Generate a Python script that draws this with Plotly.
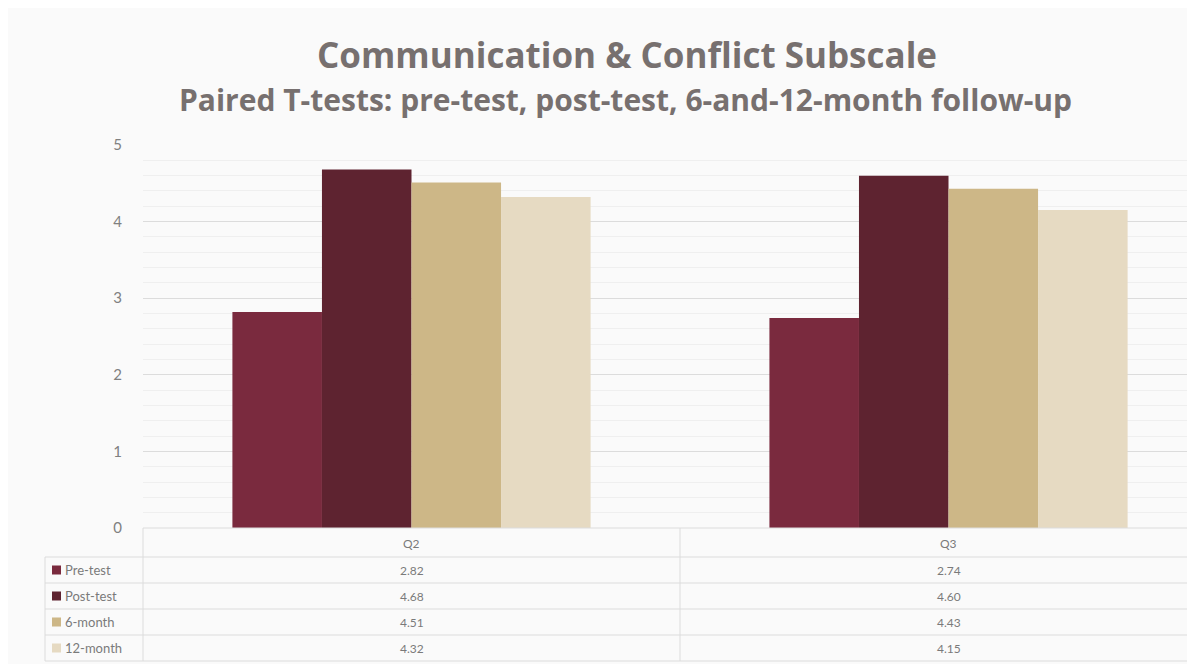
import plotly.graph_objects as go

# data
categories = ["Q2", "Q3"]
series_names = ["Pre-test", "Post-test", "6-month", "12-month"]
pre_test = [2.82, 2.74]
post_test = [4.68, 4.60]
six_month = [4.51, 4.43]
twelve_month = [4.32, 4.15]
colors = ["#7a2a3e", "#5e2330", "#cdb787", "#e6dac2"]

# the page body adds an 8px margin, so work in the shifted frame
OFF = 8
W, H = 1195 - OFF, 664 - OFF
PLOT_TOP, PLOT_BOTTOM, PLOT_LEFT = 145 - OFF, 528 - OFF, 143 - OFF


def py(p):
    # reference pixel row -> paper y
    return (PLOT_BOTTOM - (p - OFF)) / (PLOT_BOTTOM - PLOT_TOP)


def px_(p):
    # reference pixel column -> paper x
    return ((p - OFF) - PLOT_LEFT) / (W - PLOT_LEFT)


fig = go.Figure()
all_series = [pre_test, post_test, six_month, twelve_month]
for name, vals, col in zip(series_names, all_series, colors):
    fig.add_trace(go.Bar(x=categories, y=vals, name=name, marker=dict(color=col, line=dict(width=0)),
                         showlegend=False, hoverinfo="x+y+name"))

grid_col = "#dcdcdc"
text_col = "#7a7a7a"

shapes = []
annotations = []

# data table under the chart
row_edges = [528, 557, 583, 609, 635, 661]
shapes.append(dict(type="line", xref="paper", yref="paper", x0=0, x1=1, y0=py(528), y1=py(528),
                   line=dict(color=grid_col, width=1)))
for r in row_edges[1:]:
    shapes.append(dict(type="line", xref="paper", yref="paper", x0=px_(45), x1=1, y0=py(r), y1=py(r),
                       line=dict(color=grid_col, width=1)))
shapes.append(dict(type="line", xref="paper", yref="paper", x0=px_(45), x1=px_(45), y0=py(557), y1=py(661),
                   line=dict(color=grid_col, width=1)))
shapes.append(dict(type="line", xref="paper", yref="paper", x0=0, x1=0, y0=py(528), y1=py(661),
                   line=dict(color=grid_col, width=1)))
shapes.append(dict(type="line", xref="x", yref="paper", x0=0.5, x1=0.5, y0=py(528), y1=py(661),
                   line=dict(color=grid_col, width=1)))

# header row
for i, c in enumerate(categories):
    annotations.append(dict(x=i, xref="x", y=py(543), yref="paper", text=c, showarrow=False,
                            xanchor="center", yanchor="middle", font=dict(size=12, color=text_col)))

for k, (name, vals, col) in enumerate(zip(series_names, all_series, colors)):
    yc = (row_edges[k + 1] + row_edges[k + 2]) / 2
    shapes.append(dict(type="rect", xref="paper", yref="paper", x0=px_(52), x1=px_(61),
                       y0=py(yc + 4.5), y1=py(yc - 4.5), fillcolor=col, line=dict(width=0)))
    annotations.append(dict(x=px_(63), xref="paper", y=py(yc), yref="paper", text=name, showarrow=False,
                            xanchor="left", yanchor="middle", font=dict(size=13, color=text_col)))
    for i, v in enumerate(vals):
        annotations.append(dict(x=i, xref="x", y=py(yc), yref="paper", text=f"{v:.2f}", showarrow=False,
                                xanchor="center", yanchor="middle", font=dict(size=12, color=text_col)))

# titles
annotations.append(dict(x=px_(627), xref="paper", y=py(55), yref="paper", text="<b>Communication & Conflict Subscale</b>",
                        showarrow=False, xanchor="center", yanchor="middle",
                        font=dict(size=35, color="#77706f", family="Open Sans")))
annotations.append(dict(x=px_(625), xref="paper", y=py(99), yref="paper",
                        text="<b>Paired T-tests: pre-test, post-test, 6-and-12-month follow-up</b>",
                        showarrow=False, xanchor="center", yanchor="middle",
                        font=dict(size=30, color="#77706f", family="Open Sans")))

fig.update_layout(
    width=W, height=H,
    margin=dict(l=PLOT_LEFT, r=0, t=PLOT_TOP, b=H - PLOT_BOTTOM),
    paper_bgcolor="#fafafa", plot_bgcolor="#fafafa",
    barmode="group", bargap=0.333, bargroupgap=0,
    font=dict(family="Lato", color=text_col),
    shapes=shapes, annotations=annotations,
)
fig.update_xaxes(range=[-0.5, 1.459], showticklabels=False, showgrid=False, zeroline=False, showline=False)
fig.update_yaxes(range=[0, 5], dtick=1, showgrid=True, gridcolor=grid_col, gridwidth=1,
                 minor=dict(dtick=0.2, showgrid=True, gridcolor="#efefef"),
                 zeroline=False, ticks="", ticklabelstandoff=20,
                 tickfont=dict(size=15, color="#808080"))

fig.write_html("out.html")
